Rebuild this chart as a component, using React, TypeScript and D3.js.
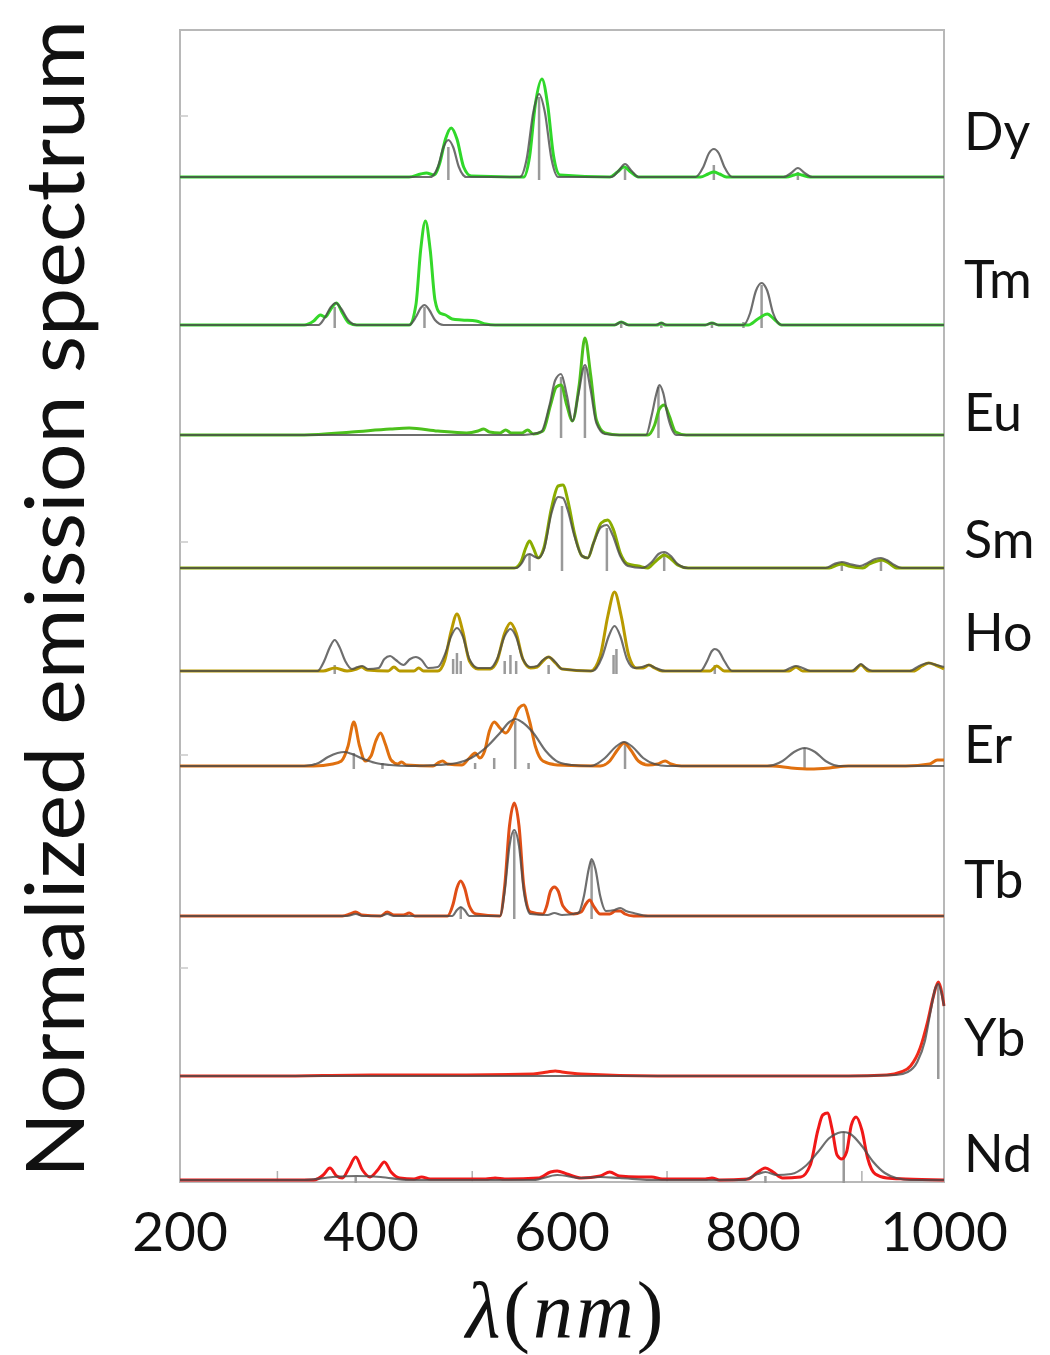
import React from 'react';
import * as d3 from 'd3';

type Pt = [number, number];

// wavelength ticks (nm)
const xTicks = [200, 400, 600, 800, 1000];
const minorTicks = [302, 506, 710, 914];

// [wavelength nm, intensity a.u.]
const dyExp: Pt[] = [[200,0],[440,0],[452,3],[458,4],[466,2],[472,14],[478,38],[484,49],[490,38],[497,10],[505,1],[560,0],[566,20],[572,72],[579,98],[585,72],[591,22],[598,2],[650,0],[658,5],[665,10],[672,5],[680,0],[745,0],[753,3],[759,5],[765,3],[772,0],[835,0],[843,2],[847,3],[851,2],[860,0],[1000,0]];
const dyFit: Pt[] = [[200,0],[462,0],[470,10],[476,30],[481,37],[486,30],[492,10],[500,0],[556,0],[563,18],[570,65],[576,83],[582,65],[589,18],[596,0],[652,0],[659,6],[666,13],[673,6],[680,0],[740,0],[748,10],[754,24],[759,28],[764,24],[770,10],[778,0],[832,0],[840,4],[847,9],[854,4],[862,0],[1000,0]];
const dySticks: Pt[] = [[481,30],[576,80],[666,8],[759,12],[847,5]];

const tmExp: Pt[] = [[200,0],[330,0],[340,4],[347,10],[352,8],[358,16],[364,22],[370,12],[377,2],[385,0],[440,0],[447,20],[452,75],[457,104],[462,75],[467,25],[472,12],[478,10],[485,6],[495,5],[510,4],[520,1],[530,0],[655,0],[662,3],[670,0],[700,0],[704,2],[708,0],[750,0],[757,2],[764,0],[795,0],[805,6],[815,11],[822,6],[830,0],[1000,0]];
const tmFit: Pt[] = [[200,0],[345,0],[352,8],[358,18],[363,22],[369,16],[376,5],[385,0],[440,0],[447,8],[452,17],[456,20],[461,15],[467,5],[476,0],[655,0],[662,3],[669,0],[698,0],[704,2],[710,0],[750,0],[757,2],[764,0],[790,0],[797,12],[803,34],[809,42],[815,34],[821,12],[830,0],[1000,0]];
const tmSticks: Pt[] = [[362,18],[456,18],[662,3],[704,3],[757,3],[790,3],[809,40]];

const euExp: Pt[] = [[200,0],[330,0],[380,3],[420,6],[440,7],[470,4],[500,2],[512,4],[518,6],[524,3],[535,2],[541,5],[547,2],[558,2],[564,5],[570,1],[580,4],[588,30],[594,48],[599,50],[605,30],[611,14],[618,50],[624,97],[630,60],[636,15],[645,2],[660,0],[690,0],[697,10],[702,26],[707,30],[712,20],[719,3],[730,0],[1000,0]];
const euFit: Pt[] = [[200,0],[560,0],[578,3],[587,30],[593,55],[599,61],[605,40],[611,14],[617,40],[624,70],[630,45],[636,12],[645,1],[660,0],[688,0],[694,20],[699,42],[702,50],[706,42],[711,18],[720,0],[1000,0]];
const euSticks: Pt[] = [[599,58],[624,68],[701,48]];

const smExp: Pt[] = [[200,0],[550,0],[557,6],[562,20],[566,27],[570,20],[575,10],[581,20],[589,60],[596,82],[601,83],[606,68],[613,35],[621,12],[627,10],[633,25],[641,45],[648,48],[654,38],[661,15],[669,4],[680,2],[690,0],[696,5],[702,10],[707,13],[713,10],[721,3],[732,0],[880,0],[888,3],[893,4],[900,2],[915,0],[922,4],[930,7],[935,8],[942,5],[950,0],[1000,0]];
const smFit: Pt[] = [[200,0],[552,0],[558,5],[562,12],[566,14],[570,12],[575,10],[581,18],[589,55],[596,71],[601,70],[606,58],[613,32],[621,12],[627,10],[633,25],[641,41],[647,43],[653,33],[661,12],[669,2],[684,0],[694,6],[701,14],[707,16],[714,12],[721,4],[732,0],[876,0],[885,4],[893,6],[901,4],[912,2],[920,5],[928,9],[934,10],[940,8],[948,3],[956,0],[1000,0]];
const smSticks: Pt[] = [[566,14],[600,62],[647,40],[707,15],[893,6],[934,9]];

const hoExp: Pt[] = [[200,0],[350,0],[362,3],[375,0],[385,2],[390,4],[396,1],[418,0],[424,4],[430,0],[445,0],[450,3],[455,0],[470,0],[477,10],[484,40],[490,57],[496,40],[503,10],[512,2],[525,2],[532,10],[540,38],[546,48],[552,38],[559,12],[567,3],[574,4],[580,10],[586,14],[593,8],[600,2],[630,0],[640,15],[648,55],[655,79],[662,55],[670,15],[678,3],[685,3],[691,6],[697,3],[705,0],[755,0],[762,5],[770,0],[838,0],[845,4],[852,0],[905,0],[913,6],[921,0],[968,0],[977,5],[984,8],[991,6],[1000,2]];
const hoFit: Pt[] = [[200,0],[344,0],[351,10],[357,24],[362,31],[367,24],[373,10],[380,2],[386,4],[391,5],[397,2],[408,3],[414,12],[420,15],[426,11],[434,6],[441,12],[447,14],[453,11],[460,3],[470,4],[478,18],[484,35],[490,43],[496,35],[503,12],[512,3],[525,3],[532,12],[540,35],[546,42],[552,34],[559,12],[567,4],[574,5],[580,11],[586,14],[593,9],[600,2],[632,0],[642,14],[649,35],[655,45],[661,35],[668,12],[676,3],[684,4],[691,6],[698,3],[708,0],[745,0],[752,10],[757,20],[760,22],[764,20],[770,10],[778,0],[832,0],[839,3],[845,5],[852,3],[860,0],[903,0],[909,4],[913,7],[917,4],[925,0],[964,0],[974,5],[984,8],[992,6],[1000,4]];
const hoSticks: Pt[] = [[362,6],[486,12],[490,18],[494,10],[540,10],[546,16],[552,10],[586,6],[654,16],[657,22],[760,6]];

const erExp: Pt[] = [[200,0],[340,0],[360,2],[369,5],[376,20],[382,44],[388,20],[394,5],[400,10],[405,25],[410,33],[415,22],[421,6],[428,2],[432,4],[437,1],[465,0],[470,3],[475,5],[480,2],[495,1],[503,8],[509,13],[514,8],[519,15],[524,35],[529,44],[535,38],[541,33],[549,45],[555,58],[560,61],[566,45],[572,20],[580,5],[595,1],[640,0],[650,5],[658,16],[665,23],[672,16],[680,5],[690,1],[700,2],[708,5],[714,2],[725,0],[820,0],[840,-2],[860,-3],[880,-2],[900,0],[960,0],[985,2],[993,6],[1000,6]];
const erFit: Pt[] = [[200,0],[330,0],[345,3],[355,9],[365,13],[372,14],[380,12],[392,7],[405,3],[420,1],[440,0],[470,1],[490,3],[505,8],[520,18],[535,33],[545,44],[551,47],[558,44],[570,33],[583,15],[596,4],[610,1],[630,0],[645,8],[656,19],[665,24],[674,19],[685,8],[697,2],[710,0],[815,0],[831,5],[843,14],[854,18],[865,14],[876,5],[890,0],[1000,0]];
const erSticks: Pt[] = [[382,13],[412,3],[509,3],[529,8],[551,45],[565,3],[666,22],[854,18]];

const tbExp: Pt[] = [[200,0],[370,0],[378,2],[384,4],[390,1],[410,0],[417,4],[424,1],[434,1],[440,3],[446,0],[480,0],[486,12],[490,28],[494,35],[498,28],[503,10],[510,2],[535,0],[540,30],[545,90],[550,113],[555,90],[560,30],[567,4],[580,2],[584,10],[588,25],[592,29],[596,25],[601,10],[612,2],[620,4],[625,12],[629,16],[633,10],[640,2],[650,2],[656,5],[661,5],[666,2],[675,0],[1000,0]];
const tbFit: Pt[] = [[200,0],[375,0],[384,2],[392,0],[410,0],[417,2],[424,0],[485,0],[490,6],[494,9],[498,6],[503,0],[535,0],[540,25],[545,70],[550,86],[555,70],[560,25],[567,2],[585,1],[592,3],[600,1],[617,3],[623,20],[628,47],[631,57],[635,47],[640,20],[646,5],[655,6],[661,8],[667,5],[675,3],[690,0],[1000,0]];
const tbSticks: Pt[] = [[494,9],[550,84],[631,55]];

const ybExp: Pt[] = [[200,0],[300,0],[400,1],[500,1],[570,2],[585,4],[593,5],[600,4],[620,2],[700,0],[800,0],[900,0],[940,1],[955,4],[965,10],[975,28],[983,55],[989,80],[994,94],[998,82],[1000,70]];
const ybFit: Pt[] = [[200,0],[900,0],[950,1],[962,4],[972,14],[980,35],[986,65],[991,88],[994,92],[998,80],[1000,70]];
const ybSticks: Pt[] = [[994,94]];

const ndExp: Pt[] = [[200,0],[340,0],[350,5],[357,12],[364,4],[370,2],[377,12],[384,23],[391,10],[399,3],[407,10],[414,18],[421,8],[430,2],[445,1],[453,3],[462,1],[520,1],[530,2],[540,1],[575,2],[588,8],[595,9],[605,6],[620,2],[640,4],[650,8],[660,4],[680,3],[694,3],[705,1],[750,1],[757,2],[765,0],[795,1],[805,8],[813,12],[821,8],[831,2],[850,3],[860,15],[868,50],[873,65],[878,67],[883,50],[888,25],[893,21],[898,28],[903,55],[908,63],[914,50],[920,22],[928,6],[940,2],[960,1],[1000,0]];
const ndFit: Pt[] = [[200,0],[330,0],[360,3],[385,4],[410,3],[440,0],[570,0],[595,5],[620,2],[640,3],[660,2],[700,0],[790,0],[805,6],[813,8],[825,5],[840,6],[855,14],[868,28],[880,42],[889,47],[895,48],[902,46],[914,34],[926,18],[938,7],[950,2],[965,0],[1000,0]];
const ndSticks: Pt[] = [[384,3],[813,4],[895,48]];

const elements = ['Dy', 'Tm', 'Eu', 'Sm', 'Ho', 'Er', 'Tb', 'Yb', 'Nd'];
const expSeries = [dyExp, tmExp, euExp, smExp, hoExp, erExp, tbExp, ybExp, ndExp];
const fitSeries = [dyFit, tmFit, euFit, smFit, hoFit, erFit, tbFit, ybFit, ndFit];
const stickSeries = [dySticks, tmSticks, euSticks, smSticks, hoSticks, erSticks, tbSticks, ybSticks, ndSticks];

// layout (pixels)
const colors = ['#2fd82a', '#35d82a', '#4cc01c', '#8aac00', '#b89a00', '#e0700f', '#e04e16', '#f02a1a', '#f01818'];
const baselines = [177, 325, 435, 568, 671, 766, 916, 1076, 1180];
const labelBaselines = [150, 298, 431, 558, 651, 763, 898, 1056, 1172];
const leftTickYs = [116, 542, 755, 968];

const W = 1050, H = 1355;
const plot = { left: 180, right: 944, top: 30, bottom: 1182 };

export default function App() {
  const x = d3.scaleLinear().domain([200, 1000]).range([plot.left, plot.right]);

  return (
    <svg width={W} height={H} style={{ position: 'absolute', left: 0, top: 0, background: '#fff' }}>
      {/* frame */}
      <rect x={plot.left} y={plot.top} width={plot.right - plot.left} height={plot.bottom - plot.top}
        fill="none" stroke="#b8b8b8" strokeWidth={2} />
      {leftTickYs.map((ty, i) => (
        <line key={'lt' + i} x1={plot.left} x2={plot.left + 8} y1={ty} y2={ty} stroke="#c8c8c8" strokeWidth={1.5} />
      ))}
      {minorTicks.map((t, i) => (
        <line key={'mt' + i} x1={x(t)} x2={x(t)} y1={plot.bottom} y2={plot.bottom - 11} stroke="#b0b0b0" strokeWidth={1.5} />
      ))}

      {elements.map((el, i) => {
        const y = d3.scaleLinear().domain([0, 100]).range([baselines[i], baselines[i] - 100]);
        const line = d3.line<Pt>()
          .x(d => x(d[0]))
          .y(d => y(d[1]))
          .curve(d3.curveMonotoneX);
        return (
          <g key={el}>
            {stickSeries[i].map((s, j) => (
              <line key={j} x1={x(s[0])} x2={x(s[0])} y1={y(0) + 3} y2={y(s[1])}
                stroke="#9a9a9a" strokeWidth={2.5} />
            ))}
            <path d={line(expSeries[i]) || ''} fill="none" stroke={colors[i]} strokeWidth={3} strokeLinejoin="round" />
            <path d={line(fitSeries[i]) || ''} fill="none" stroke="#4a4a4a" strokeOpacity={0.8} strokeWidth={2.2} strokeLinejoin="round" />
            <text x={964} y={labelBaselines[i]} fontFamily="Lato, 'Open Sans', sans-serif" fontSize={52} fill="#111">{el}</text>
          </g>
        );
      })}

      {/* x tick labels */}
      {xTicks.map(t => (
        <text key={t} x={x(t)} y={1251} textAnchor="middle" fontFamily="Lato, 'Open Sans', sans-serif"
          fontSize={55} fill="#111">{t}</text>
      ))}

      {/* axis titles */}
      <text x={566} y={1337} textAnchor="middle" fontFamily="'Liberation Serif', 'DejaVu Serif', serif"
        fontSize={80} letterSpacing={3} fill="#111">
        <tspan fontStyle="italic">λ</tspan>(<tspan fontStyle="italic">nm</tspan>)
      </text>
      <text transform="translate(84,599) rotate(-90)" textAnchor="middle" fontFamily="Lato, 'Open Sans', sans-serif"
        fontSize={82} textLength={1158} lengthAdjust="spacingAndGlyphs" fill="#111">
        Normalized emission spectrum
      </text>
    </svg>
  );
}
